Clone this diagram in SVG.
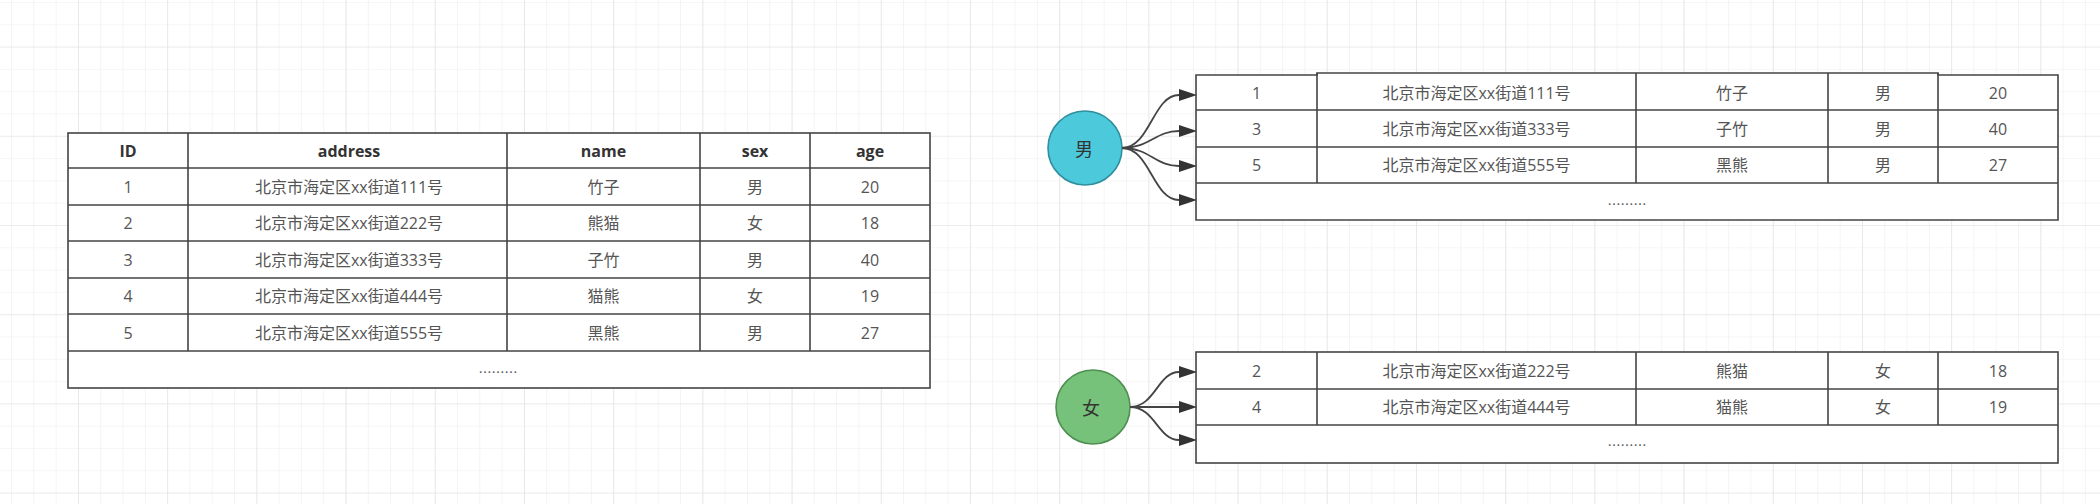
<svg xmlns="http://www.w3.org/2000/svg" width="2100" height="504" viewBox="0 0 2100 504">
<style>
.cell{fill:#fff;stroke:#444;stroke-width:1.6}
.ln{stroke:#444;stroke-width:1.6;fill:none}
.hd{font-family:"Open Sans","Noto Sans CJK SC",sans-serif;font-size:16px;font-weight:bold;fill:#333;text-anchor:middle;dominant-baseline:central}
.td{font-family:"Open Sans","Noto Sans CJK SC",sans-serif;font-size:16px;fill:#555;text-anchor:middle;dominant-baseline:central}
.dots{font-family:"Noto Sans CJK SC",sans-serif;font-size:13px;fill:#555;text-anchor:middle}
.edge{stroke:#444;stroke-width:1.8;fill:none}
.ctext{font-family:"Noto Sans CJK SC",sans-serif;font-size:18px;fill:#333;text-anchor:middle;dominant-baseline:central}
</style>
<defs>
<pattern id="gminor" x="11" y="2" width="22.3" height="22.3" patternUnits="userSpaceOnUse">
<path d="M0,0 V22.3 M0,0 H22.3" stroke="#ededed" stroke-width="1.2" fill="none"/>
</pattern>
<pattern id="gmajor" x="78" y="46.6" width="89.2" height="89.2" patternUnits="userSpaceOnUse">
<path d="M0,0 V89.2 M0,0 H89.2" stroke="#e2e2e2" stroke-width="1.2" fill="none"/>
</pattern>
<marker id="arr" markerUnits="userSpaceOnUse" markerWidth="20" markerHeight="14" refX="0" refY="6" orient="auto">
<path d="M0,0 L18,6 L0,12 Z" fill="#333"/>
</marker>
</defs>
<rect width="2100" height="504" fill="#fff"/>
<rect width="2100" height="504" fill="url(#gminor)"/>
<rect width="2100" height="504" fill="url(#gmajor)"/>

<g id="table-all">
<rect class="cell" x="68" y="133" width="862" height="255"/>
<path class="ln" d="M68,168 H930 M68,205 H930 M68,241 H930 M68,278 H930 M68,314 H930 M68,351 H930 M188,133 V351 M507,133 V351 M700,133 V351 M810,133 V351"/>
<text class="hd" x="128" y="150.5">ID</text>
<text class="hd" x="349" y="150.5">address</text>
<text class="hd" x="603.5" y="150.5">name</text>
<text class="hd" x="755" y="150.5">sex</text>
<text class="hd" x="870" y="150.5">age</text>
<text class="td" x="128" y="186.5">1</text><text class="td" x="349" y="186.5">北京市海定区xx街道111号</text><text class="td" x="603.5" y="186.5">竹子</text><text class="td" x="755" y="186.5">男</text><text class="td" x="870" y="186.5">20</text>
<text class="td" x="128" y="223">2</text><text class="td" x="349" y="223">北京市海定区xx街道222号</text><text class="td" x="603.5" y="223">熊猫</text><text class="td" x="755" y="223">女</text><text class="td" x="870" y="223">18</text>
<text class="td" x="128" y="259.5">3</text><text class="td" x="349" y="259.5">北京市海定区xx街道333号</text><text class="td" x="603.5" y="259.5">子竹</text><text class="td" x="755" y="259.5">男</text><text class="td" x="870" y="259.5">40</text>
<text class="td" x="128" y="296">4</text><text class="td" x="349" y="296">北京市海定区xx街道444号</text><text class="td" x="603.5" y="296">猫熊</text><text class="td" x="755" y="296">女</text><text class="td" x="870" y="296">19</text>
<text class="td" x="128" y="332.5">5</text><text class="td" x="349" y="332.5">北京市海定区xx街道555号</text><text class="td" x="603.5" y="332.5">黑熊</text><text class="td" x="755" y="332.5">男</text><text class="td" x="870" y="332.5">27</text>
<text class="dots" x="498" y="377">………</text>
</g>

<g id="node-male">
<circle cx="1085" cy="148" r="37" fill="#4dc9dc" stroke="#2f8f9e" stroke-width="1.6"/>
<text class="ctext" x="1084" y="148">男</text>
</g>

<g id="node-female">
<circle cx="1093" cy="407" r="37" fill="#77c27a" stroke="#4f8f52" stroke-width="1.6"/>
<text class="ctext" x="1091" y="407">女</text>
</g>

<g id="table-male">
<path class="cell" d="M1196,75 H1317 V73 H1938 V75 H2058 V220 H1196 Z"/>
<path class="ln" d="M1196,110 H2058 M1196,147 H2058 M1196,183 H2058 M1317,73 V183 M1636,73 V183 M1828,73 V183 M1938,73 V183"/>
<text class="td" x="1256.5" y="92.5">1</text><text class="td" x="1476.5" y="92.5">北京市海定区xx街道111号</text><text class="td" x="1732" y="92.5">竹子</text><text class="td" x="1883" y="92.5">男</text><text class="td" x="1998" y="92.5">20</text>
<text class="td" x="1256.5" y="128.5">3</text><text class="td" x="1476.5" y="128.5">北京市海定区xx街道333号</text><text class="td" x="1732" y="128.5">子竹</text><text class="td" x="1883" y="128.5">男</text><text class="td" x="1998" y="128.5">40</text>
<text class="td" x="1256.5" y="165">5</text><text class="td" x="1476.5" y="165">北京市海定区xx街道555号</text><text class="td" x="1732" y="165">黑熊</text><text class="td" x="1883" y="165">男</text><text class="td" x="1998" y="165">27</text>
<text class="dots" x="1627" y="209">………</text>
</g>

<g id="table-female">
<rect class="cell" x="1196" y="352" width="862" height="111"/>
<path class="ln" d="M1196,389 H2058 M1196,425 H2058 M1317,352 V425 M1636,352 V425 M1828,352 V425 M1938,352 V425"/>
<text class="td" x="1256.5" y="370.5">2</text><text class="td" x="1476.5" y="370.5">北京市海定区xx街道222号</text><text class="td" x="1732" y="370.5">熊猫</text><text class="td" x="1883" y="370.5">女</text><text class="td" x="1998" y="370.5">18</text>
<text class="td" x="1256.5" y="407">4</text><text class="td" x="1476.5" y="407">北京市海定区xx街道444号</text><text class="td" x="1732" y="407">猫熊</text><text class="td" x="1883" y="407">女</text><text class="td" x="1998" y="407">19</text>
<text class="dots" x="1627" y="450">………</text>
</g>

<g id="connectors">
<path class="edge" marker-end="url(#arr)" d="M1122,148 C1150,148 1153,95 1179,95"/>
<path class="edge" marker-end="url(#arr)" d="M1122,148 C1150,148 1155,131 1179,131"/>
<path class="edge" marker-end="url(#arr)" d="M1122,148 C1150,148 1155,166 1179,166"/>
<path class="edge" marker-end="url(#arr)" d="M1122,148 C1150,148 1153,200 1179,200"/>
<path class="edge" marker-end="url(#arr)" d="M1130,407 C1155,407 1158,372 1179,372"/>
<path class="edge" marker-end="url(#arr)" d="M1130,407 H1179"/>
<path class="edge" marker-end="url(#arr)" d="M1130,407 C1155,407 1158,440 1179,440"/>
</g>
</svg>
